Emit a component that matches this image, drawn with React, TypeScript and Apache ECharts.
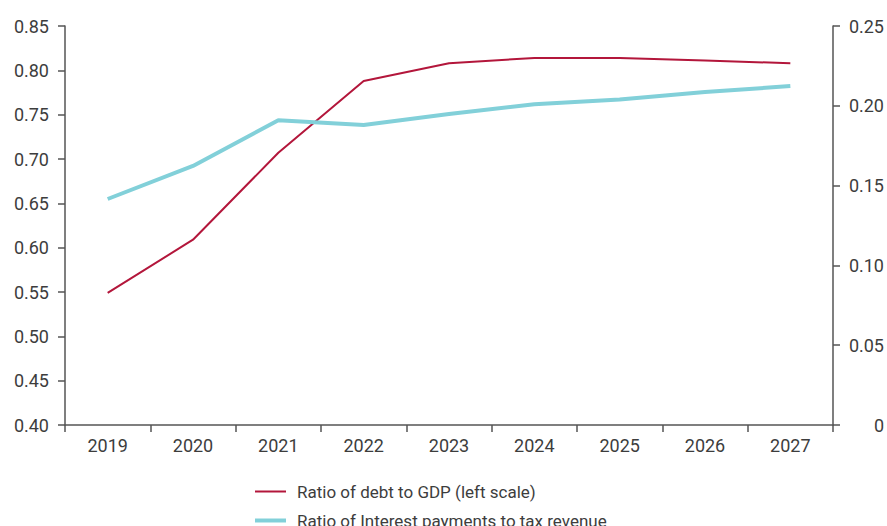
import React, { useEffect, useRef } from "react";
import * as echarts from "echarts";

const years = ["2019", "2020", "2021", "2022", "2023", "2024", "2025", "2026", "2027"];
const debtToGdp = [0.549, 0.609, 0.707, 0.788, 0.808, 0.814, 0.814, 0.811, 0.808];
const interestToTax = [0.1416, 0.1623, 0.191, 0.188, 0.1949, 0.201, 0.204, 0.2086, 0.2124];
const seriesNames = [
  "Ratio of debt to GDP (left scale)",
  "Ratio of Interest payments to tax revenue",
];
const colors = ["#b3163b", "#82d0d9"];

const FONT = "Roboto, 'Liberation Sans', sans-serif";
const TEXT = "#3d3d3d";
const AXIS = "#555555";

export default function App() {
  const ref = useRef<HTMLDivElement>(null);
  useEffect(() => {
    if (!ref.current) return;
    const chart = echarts.init(ref.current, undefined, { renderer: "svg" });
    const legendText = { fontFamily: FONT, fontSize: 17, color: TEXT, padding: [0, 0, 0, 6] };
    chart.setOption({
      animation: false,
      textStyle: { fontFamily: FONT },
      grid: { left: 65, right: 52, top: 26, bottom: 101, containLabel: false },
      legend: [
        {
          left: 250,
          top: 478,
          icon: "rect",
          itemWidth: 31,
          itemHeight: 2,
          itemGap: 10,
          textStyle: legendText,
          data: [seriesNames[0]],
        },
        {
          left: 250,
          top: 507,
          icon: "rect",
          itemWidth: 31,
          itemHeight: 4,
          itemGap: 10,
          textStyle: legendText,
          data: [seriesNames[1]],
        },
      ],
      xAxis: {
        type: "category",
        data: years,
        boundaryGap: true,
        axisLine: { lineStyle: { color: AXIS, width: 1.5 } },
        axisTick: { show: true, length: 7, lineStyle: { color: AXIS, width: 1.5 } },
        axisLabel: { color: TEXT, fontSize: 18, fontFamily: FONT, margin: 11 },
      },
      yAxis: [
        {
          type: "value",
          min: 0.4,
          max: 0.85,
          interval: 0.05,
          position: "left",
          splitLine: { show: false },
          axisLine: { show: true, lineStyle: { color: AXIS, width: 1.5 } },
          axisTick: { show: true, length: 7, lineStyle: { color: AXIS, width: 1.5 } },
          axisLabel: {
            color: TEXT,
            fontSize: 18,
            fontFamily: FONT,
            margin: 16,
            formatter: (v: number) => v.toFixed(2),
          },
        },
        {
          type: "value",
          min: 0,
          max: 0.25,
          interval: 0.05,
          position: "right",
          splitLine: { show: false },
          axisLine: { show: true, lineStyle: { color: AXIS, width: 1.5 } },
          axisTick: { show: true, length: 7, lineStyle: { color: AXIS, width: 1.5 } },
          axisLabel: {
            color: TEXT,
            fontSize: 18,
            fontFamily: FONT,
            margin: 51,
            align: "right",
            formatter: (v: number) => (v === 0 ? "0" : v.toFixed(2)),
          },
        },
      ],
      series: [
        {
          name: seriesNames[0],
          type: "line",
          yAxisIndex: 0,
          data: debtToGdp,
          symbol: "none",
          lineStyle: { color: colors[0], width: 2 },
          itemStyle: { color: colors[0] },
        },
        {
          name: seriesNames[1],
          type: "line",
          yAxisIndex: 1,
          data: interestToTax,
          symbol: "none",
          lineStyle: { color: colors[1], width: 4 },
          itemStyle: { color: colors[1] },
        },
      ],
    });
    return () => chart.dispose();
  }, []);
  return <div ref={ref} style={{ width: 887, height: 526, position: "absolute", left: 0, top: 0 }} />;
}
